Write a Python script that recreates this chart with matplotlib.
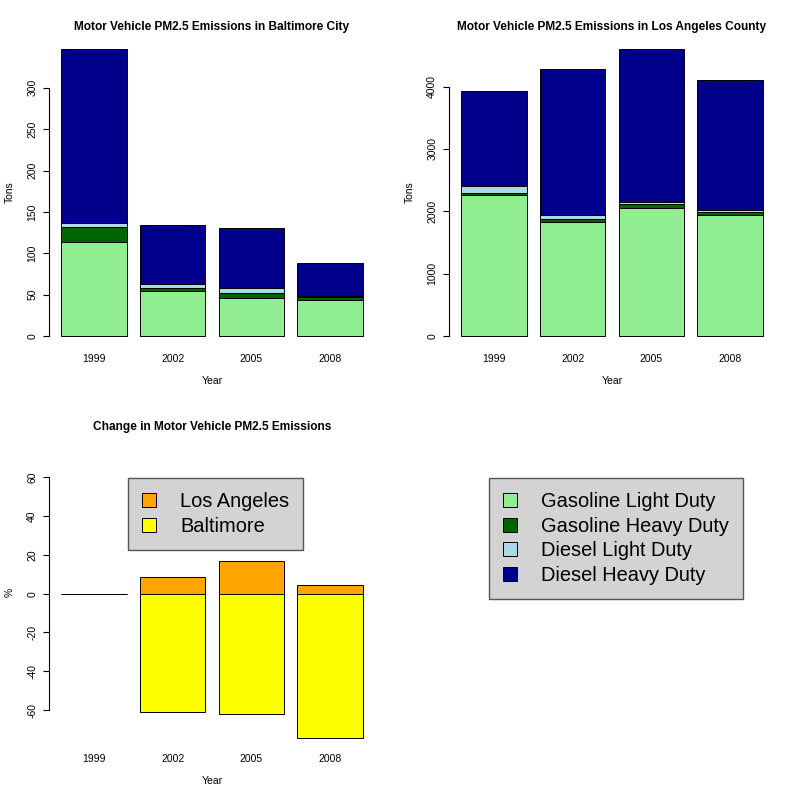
import numpy as np
import matplotlib
matplotlib.use('Agg')
import matplotlib.pyplot as plt

plt.rcParams['font.family'] = ['Liberation Sans', 'DejaVu Sans']

years = ['1999', '2002', '2005', '2008']
types = ['Gasoline Light Duty', 'Gasoline Heavy Duty', 'Diesel Light Duty', 'Diesel Heavy Duty']
type_colors = ['lightgreen', 'darkgreen', 'lightblue', 'darkblue']

# PM2.5 tons by vehicle type
balt_gld = [114.0, 54.0, 46.0, 43.1]
balt_ghd = [17.3, 4.5, 6.5, 4.0]
balt_dld = [5.6, 4.2, 6.0, 1.6]
balt_dhd = [210.0, 71.7, 71.7, 39.1]

la_gld = [2257, 1824, 2049, 1946]
la_ghd = [43, 58, 64, 49]
la_dld = [112, 64, 42, 26]
la_dhd = [1524, 2332, 2449, 2086]

# % change relative to 1999
la_change = [0.0, 8.5, 17.0, 4.3]
balt_change = [0.0, -61.1, -62.2, -74.2]

x = np.arange(len(years)) * 1.2 + 0.7


def style(ax, yticks):
    for s in ['top', 'right', 'bottom']:
        ax.spines[s].set_visible(False)
    ax.spines['left'].set_bounds(yticks[0], yticks[-1])
    ax.spines['left'].set_linewidth(0.8)
    ax.set_yticks(yticks)
    ax.set_yticklabels([str(t) for t in yticks], rotation=90, va='center')
    ax.set_xticks(x)
    ax.set_xticklabels(years)
    ax.tick_params(axis='y', length=4.5, width=0.8, pad=4, labelsize=7.5)
    ax.tick_params(axis='x', length=0, pad=5, labelsize=7.5)
    ax.set_xlim(0.016, 4.984)
    ax.set_xlabel('Year', fontsize=7.5, labelpad=8.5)


def stacked(ax, series, title, yticks):
    bottom = np.zeros(len(years))
    for vals, c in zip(series, type_colors):
        ax.bar(x, vals, width=1.0, bottom=bottom, color=c, edgecolor='black', linewidth=0.7)
        bottom += np.array(vals)
    top = bottom.max()
    ax.set_ylim(-0.04 * top, 1.04 * top)
    style(ax, yticks)
    ax.set_ylabel('Tons', fontsize=7.5, labelpad=9)
    ax.set_title(title, fontsize=8.6, fontweight='bold', pad=5.5)


fig = plt.figure(figsize=(8, 8), dpi=100)
w, h = 326 / 800, 310 / 800
ax1 = fig.add_axes([49 / 800, 1 - 347.5 / 800, w, h])
ax2 = fig.add_axes([449 / 800, 1 - 347.5 / 800, w, h])
ax3 = fig.add_axes([49 / 800, 1 - 747.5 / 800, w, h])

stacked(ax1, [balt_gld, balt_ghd, balt_dld, balt_dhd],
        'Motor Vehicle PM2.5 Emissions in Baltimore City', list(range(0, 301, 50)))
stacked(ax2, [la_gld, la_ghd, la_dld, la_dhd],
        'Motor Vehicle PM2.5 Emissions in Los Angeles County', list(range(0, 4001, 1000)))

# change plot
la_bars = ax3.bar(x, la_change, width=1.0, color='orange', edgecolor='black', linewidth=0.7)
balt_bars = ax3.bar(x, balt_change, width=1.0, color='yellow', edgecolor='black', linewidth=0.7)
ax3.set_ylim(-79.3, 80.5)
style(ax3, list(range(-60, 61, 20)))
ax3.set_ylabel('%', fontsize=7.5, labelpad=9)
ax3.set_title('Change in Motor Vehicle PM2.5 Emissions', fontsize=8.6, fontweight='bold', pad=5.5)

leg_kw = dict(fontsize=14.4, handlelength=0.7, handleheight=0.7, handletextpad=1.2,
              borderpad=0.7, labelspacing=0.28, borderaxespad=0, fancybox=False,
              facecolor='lightgray', edgecolor='#555555', framealpha=1)
l3 = fig.legend([la_bars, balt_bars], ['Los Angeles', 'Baltimore'], loc='upper left',
                bbox_to_anchor=(128 / 800, 1 - 478 / 800), **leg_kw)
l3.get_frame().set_linewidth(1.0)

handles = [plt.Rectangle((0, 0), 1, 1, facecolor=c, edgecolor='black', linewidth=0.7)
           for c in type_colors]
l4 = fig.legend(handles, types, loc='upper left',
                bbox_to_anchor=(489 / 800, 1 - 478 / 800), **leg_kw)
l4.get_frame().set_linewidth(1.0)

fig.savefig('out.png', dpi=100)
